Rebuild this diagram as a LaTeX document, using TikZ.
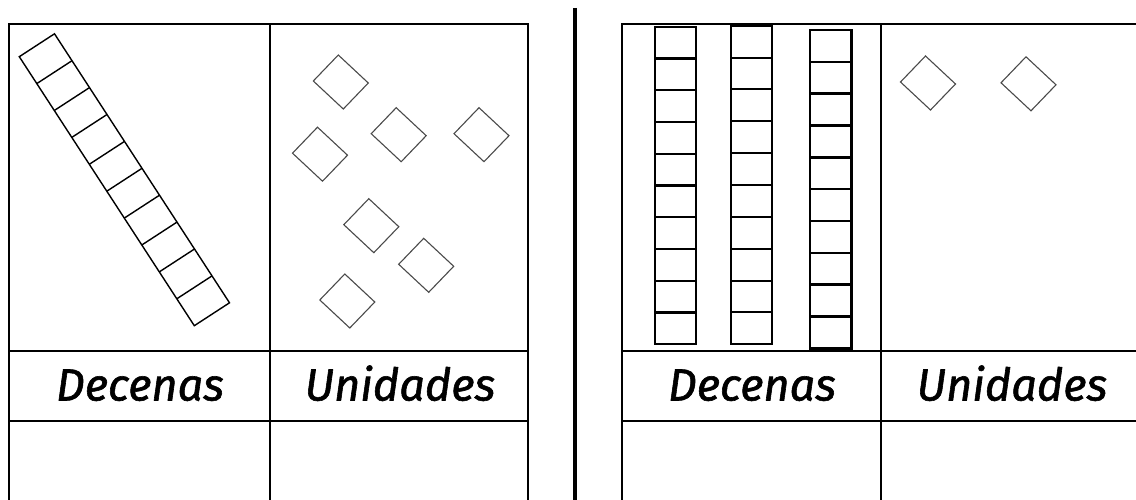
\documentclass[tikz,border=0pt]{standalone}
\usepackage{fontspec}
\setmainfont{Fira Sans}
\newfontfamily\lblfont{Fira Sans}[ItalicFeatures={FakeBold=1.3}]
\definecolor{diamgray}{HTML}{4A4A4A}
\begin{document}
\begin{tikzpicture}[x=1pt,y=-1pt,
  tab/.style={line width=2pt, black},
  rodline/.style={line width=1.4pt, black},
  unitline/.style={line width=1.1pt, draw=diamgray, line join=miter},
  lbl/.style={font=\lblfont\fontsize{45}{50}\selectfont\itshape, inner sep=0pt, anchor=base},
  unidad/.pic={\draw[unitline] (-27.5,-1) -- (-2.5,-27) -- (27.5,1) -- (2.5,27) -- cycle;}
]
\useasboundingbox (0,0) rectangle (1136,500);
\clip (0,0) rectangle (1136,500);
\fill[white] (0,0) rectangle (1136,500);

% left table
\draw[tab] (9.3,520) -- (9.3,24) -- (528,24) -- (528,520);
\draw[tab] (269.5,24) -- (269.5,520);
\draw[tab] (9.3,351) -- (528,351);
\draw[tab] (9.3,420.5) -- (528,420.5);

% divider
\draw[line width=4.5pt] (574.8,8) -- (574.8,520);

% right table
\draw[tab] (621.7,520) -- (621.7,24) -- (1150,24);
\draw[tab] (881,24) -- (881,520);
\draw[tab] (621.7,351) -- (1150,351);
\draw[tab] (621.7,420.5) -- (1150,420.5);

% labels
\node[lbl] (dl) at (140,400.5) {Decenas};
\node[lbl] (ul) at (400,400.5) {Unidades};
\node[lbl] (dr) at (752,400.5) {Decenas};
\node[lbl] (ur) at (1012,400.5) {Unidades};

% left tilted rod
\begin{scope}[shift={(19.3,56.7)}, x={(0.838pt,0.5452pt)}, y={(0.5452pt,-0.838pt)}]
  \draw[rodline] (0,0) -- (42,0) -- (42,321) -- (0,321) -- cycle;
  \foreach \i in {1,...,9} \draw[rodline] (0,{32.1*\i}) -- (42,{32.1*\i});
\end{scope}

% right vertical rods
\foreach \x/\t/\b/\w in {654.7/26.7/344.3/2.1, 730.7/25.7/344.3/2.1, 810/30/348.3/2.5} {
  \pgfmathsetmacro\h{(\b-\t)/10}
  \draw[line width=\w pt] (\x,\t) rectangle (\x+41.3,\b);
  \foreach \i in {1,...,9} \draw[line width=\w pt] (\x,{\t+\h*\i}) -- (\x+41.3,{\t+\h*\i});
}

% unit cubes left
\pic at (340.8,82) {unidad};
\pic at (398.7,134.7) {unidad};
\pic at (481.5,134.7) {unidad};
\pic at (320,154.2) {unidad};
\pic at (371.3,225.7) {unidad};
\pic at (426.2,265.3) {unidad};
\pic at (347.3,301) {unidad};
% unit cubes right
\pic at (928,83) {unidad};
\pic at (1028.5,83.8) {unidad};
\end{tikzpicture}
\end{document}
